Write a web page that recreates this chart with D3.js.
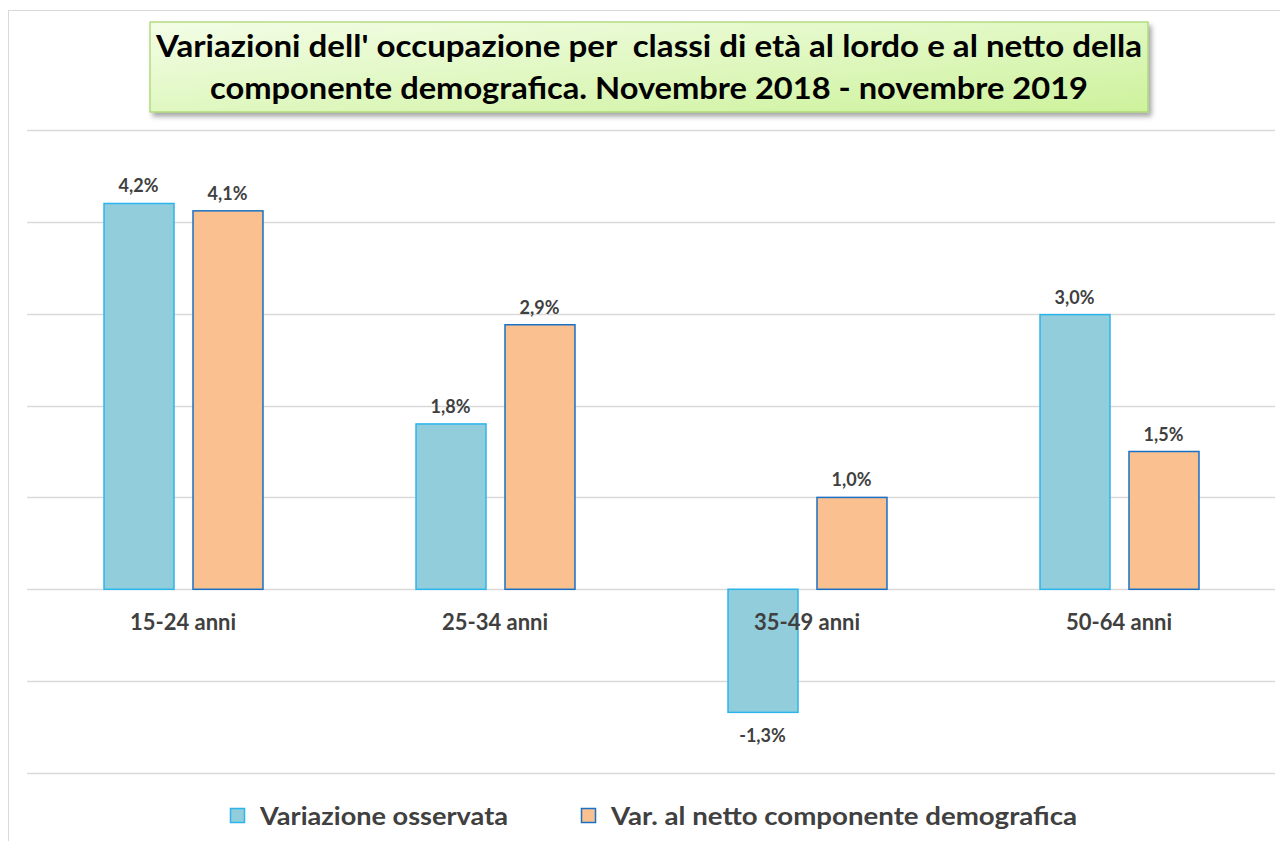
<!DOCTYPE html>
<html>
<head>
<meta charset="utf-8">
<script src="https://cdn.jsdelivr.net/npm/d3@7"></script>
<style>
  html, body { margin: 0; padding: 0; background: #fff; }
  svg { display: block; }
  text { white-space: pre; }
</style>
</head>
<body>
<svg id="chart" width="1280" height="841"></svg>
<script>
const categories = ["15-24 anni", "25-34 anni", "35-49 anni", "50-64 anni"];
const seriesNames = ["Variazione osservata", "Var. al netto componente demografica"];
const observed = [4.2, 1.8, -1.34, 2.99];
const netDemographic = [4.12, 2.88, 1.0, 1.5];
const observedLabels = ["4,2%", "1,8%", "-1,3%", "3,0%"];
const netLabels = ["4,1%", "2,9%", "1,0%", "1,5%"];
const gridTicks = [-2, -1, 0, 1, 2, 3, 4, 5];
const titleLines = [
  "Variazioni dell' occupazione per  classi di età al lordo e al netto della",
  "componente demografica. Novembre 2018 - novembre 2019"
];

const fills = ["#92cddc", "#fac090"];
const strokes = ["#2cb5ec", "#1a70c4"];
const font = "Lato, 'Open Sans', sans-serif";

const svg = d3.select("#chart");
const defs = svg.append("defs");
const grad = defs.append("linearGradient").attr("id", "tg")
  .attr("x1", "0%").attr("y1", "0%").attr("x2", "100%").attr("y2", "100%");
grad.append("stop").attr("offset", "0%").attr("stop-color", "#f3fde6");
grad.append("stop").attr("offset", "100%").attr("stop-color", "#cdf29c");
const sh = defs.append("filter").attr("id", "sh").attr("x", "-5%").attr("y", "-20%").attr("width", "115%").attr("height", "150%");
sh.append("feDropShadow").attr("dx", 3).attr("dy", 4).attr("stdDeviation", 2.5)
  .attr("flood-color", "#000").attr("flood-opacity", 0.35);

// outer frame
svg.append("rect").attr("x", 8.5).attr("y", 10.5).attr("width", 1300).attr("height", 900)
  .attr("fill", "none").attr("stroke", "#d9d9d9");

const y = d3.scaleLinear().domain([-2, 5]).range([773, 130]);
const x0 = d3.scaleBand().domain(categories).range([27, 1275]).padding(0);
const x1 = d3.scaleBand().domain([0, 1]).range([0, x0.bandwidth()])
  .paddingInner(0.2135).paddingOuter(0.86);

// gridlines
svg.append("g").selectAll("line").data(gridTicks).join("line")
  .attr("x1", 27).attr("x2", 1275)
  .attr("y1", d => Math.round(y(d)) + 0.5).attr("y2", d => Math.round(y(d)) + 0.5)
  .attr("stroke", "#d9d9d9").attr("stroke-width", 1.3);

// title box
svg.append("rect").attr("x", 150).attr("y", 22).attr("width", 998).attr("height", 90)
  .attr("fill", "url(#tg)").attr("stroke", "#a6d46a").attr("stroke-width", 1.2)
  .attr("filter", "url(#sh)");
svg.append("g").selectAll("text").data(titleLines).join("text")
  .attr("x", 649).attr("y", (d, i) => 57 + i * 42)
  .attr("text-anchor", "middle")
  .attr("font-family", font).attr("font-weight", "bold").attr("font-size", 31)
  .attr("fill", "#000")
  .attr("textLength", (d, i) => i === 0 ? 986 : 878)
  .attr("lengthAdjust", "spacingAndGlyphs")
  .text(d => d);

const data = categories.map((c, i) => ({
  cat: c,
  vals: [
    { s: 0, v: observed[i], lab: observedLabels[i] },
    { s: 1, v: netDemographic[i], lab: netLabels[i] }
  ]
}));

const groups = svg.append("g").selectAll("g").data(data).join("g")
  .attr("transform", d => `translate(${x0(d.cat)},0)`);

groups.selectAll("rect").data(d => d.vals).join("rect")
  .attr("x", d => x1(d.s) + 0.5)
  .attr("width", x1.bandwidth())
  .attr("y", d => y(Math.max(0, d.v)))
  .attr("height", d => Math.abs(y(d.v) - y(0)))
  .attr("fill", d => fills[d.s])
  .attr("stroke", d => strokes[d.s])
  .attr("stroke-width", 1.5);

groups.selectAll("text.val").data(d => d.vals).join("text")
  .attr("class", "val")
  .attr("x", d => x1(d.s) + x1.bandwidth() / 2)
  .attr("y", d => d.v >= 0 ? y(d.v) - 11 : y(d.v) + 30)
  .attr("text-anchor", "middle")
  .attr("font-family", font).attr("font-weight", "bold").attr("font-size", 18)
  .attr("fill", "#404040")
  .text(d => d.lab);

// category labels
svg.append("g").selectAll("text").data(categories).join("text")
  .attr("x", d => x0(d) + x0.bandwidth() / 2)
  .attr("y", 630)
  .attr("text-anchor", "middle")
  .attr("font-family", font).attr("font-weight", "bold").attr("font-size", 22)
  .attr("fill", "#404040")
  .text(d => d);

// legend
const legX = [230, 581];
const legW = [248, 466];
const leg = svg.append("g").selectAll("g").data(seriesNames).join("g")
  .attr("transform", (d, i) => `translate(${legX[i]},0)`);
leg.append("rect").attr("x", 0.5).attr("y", 808.5).attr("width", 14).attr("height", 14)
  .attr("fill", (d, i) => fills[i]).attr("stroke", (d, i) => strokes[i]).attr("stroke-width", 1.5);
leg.append("text").attr("x", 30).attr("y", 825)
  .attr("font-family", font).attr("font-weight", "bold").attr("font-size", 24)
  .attr("fill", "#404040")
  .attr("textLength", (d, i) => legW[i]).attr("lengthAdjust", "spacingAndGlyphs")
  .text(d => d);
</script>
</body>
</html>
